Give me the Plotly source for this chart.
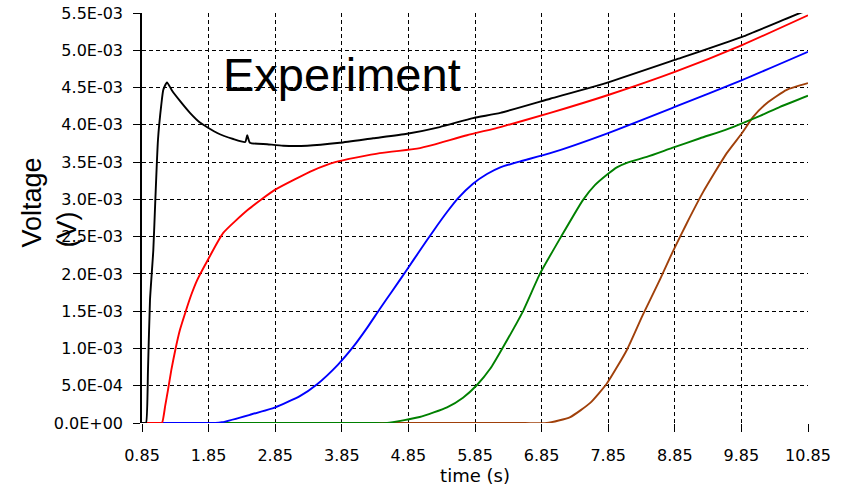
import plotly.graph_objects as go

# Time axis (s) and voltages (mV) for the five measured traces
black_t = [0.85, 0.88, 0.91, 0.94, 0.97, 1.02, 1.05, 1.09, 1.14, 1.17, 1.225, 1.30, 1.42, 1.57,
           1.72, 1.98, 2.22, 2.40, 2.43, 2.47, 2.73, 2.97, 3.33, 3.82, 4.32, 4.83, 5.32, 5.82,
           6.23, 6.98, 7.85, 8.85, 9.86, 10.73, 10.80]
black_mv = [0.0, 0.0, 0.0, 0.71, 1.65, 2.32, 2.99, 3.80, 4.27, 4.47, 4.57, 4.46, 4.32, 4.16,
            4.03, 3.89, 3.81, 3.77, 3.86, 3.76, 3.74, 3.72, 3.72, 3.76, 3.82, 3.88, 3.97, 4.09,
            4.16, 4.35, 4.57, 4.87, 5.18, 5.50, 5.52]

red_t = [0.85, 1.00, 1.10, 1.15, 1.20, 1.24, 1.29, 1.35, 1.42, 1.50, 1.59, 1.68, 1.84, 2.07,
         2.44, 2.85, 3.42, 3.75, 4.42, 4.98, 5.22, 5.73, 6.23, 6.98, 7.85, 8.85, 9.86, 10.85]
red_mv = [0.0, 0.0, 0.0, 0.0, 0.24, 0.44, 0.71, 0.98, 1.25, 1.48, 1.72, 1.92, 2.19, 2.55,
          2.86, 3.13, 3.39, 3.50, 3.62, 3.68, 3.73, 3.86, 3.97, 4.16, 4.40, 4.71, 5.07, 5.47]

blue_t = [0.85, 1.40, 1.75, 1.95, 2.05, 2.47, 2.85, 3.22, 3.48, 3.79, 4.02, 4.24, 4.42, 4.60,
          4.83, 5.02, 5.22, 5.43, 5.59, 5.82, 6.03, 6.23, 6.53, 6.98, 7.85, 8.85, 9.86, 10.85]
blue_mv = [0.0, 0.0, 0.0, 0.0, 0.01, 0.11, 0.21, 0.36, 0.52, 0.78, 1.02, 1.29, 1.53, 1.76,
           2.06, 2.31, 2.57, 2.83, 3.01, 3.21, 3.34, 3.43, 3.51, 3.62, 3.89, 4.24, 4.60, 4.98]

green_t = [0.85, 2.85, 3.85, 4.30, 4.53, 5.02, 5.43, 5.67, 5.88, 6.08, 6.26, 6.56, 6.83, 7.13,
           7.47, 7.65, 7.83, 7.98, 8.13, 8.43, 8.81, 9.23, 9.63, 9.86, 10.13, 10.43, 10.85]
green_mv = [0.0, 0.0, 0.0, 0.0, 0.0, 0.08, 0.21, 0.34, 0.51, 0.73, 1.00, 1.48, 2.01, 2.48,
            2.99, 3.19, 3.33, 3.43, 3.49, 3.57, 3.69, 3.82, 3.94, 4.02, 4.12, 4.24, 4.39]

brown_t = [0.85, 2.85, 4.85, 6.00, 6.60, 6.93, 7.28, 7.58, 7.83, 8.13, 8.37, 8.63, 8.82, 9.03,
           9.27, 9.63, 9.86, 10.02, 10.23, 10.53, 10.85]
brown_mv = [0.0, 0.0, 0.0, 0.0, 0.0, 0.0, 0.08, 0.27, 0.53, 0.98, 1.45, 1.93, 2.30, 2.68,
            3.09, 3.62, 3.89, 4.10, 4.29, 4.47, 4.56]

x_ticks = [0.85, 1.85, 2.85, 3.85, 4.85, 5.85, 6.85, 7.85, 8.85, 9.85, 10.85]
x_labels = ["0.85", "1.85", "2.85", "3.85", "4.85", "5.85", "6.85", "7.85", "8.85", "9.85", "10.85"]
y_ticks = [0.0, 0.0005, 0.0010, 0.0015, 0.0020, 0.0025, 0.0030, 0.0035, 0.0040, 0.0045, 0.0050, 0.0055]
y_labels = ["0.0E+00", "5.0E-04", "1.0E-03", "1.5E-03", "2.0E-03", "2.5E-03",
            "3.0E-03", "3.5E-03", "4.0E-03", "4.5E-03", "5.0E-03", "5.5E-03"]

series = [
    (black_t, black_mv, "#000000"),
    (red_t, red_mv, "#ff0000"),
    (blue_t, blue_mv, "#0000ff"),
    (green_t, green_mv, "#008000"),
    (brown_t, brown_mv, "#a0400a"),
]

fig = go.Figure()
# brown and green drawn first so the earlier traces sit on top where they overlap
for t, mv, col in reversed(series):
    fig.add_trace(go.Scatter(
        x=t, y=[v * 1e-3 for v in mv], mode="lines",
        line=dict(color=col, width=1.9, shape="spline", smoothing=0.5),
        showlegend=False, cliponaxis=False,
    ))

tick_font = dict(family="DejaVu Sans, Verdana, sans-serif", size=16, color="#000000")

fig.update_layout(
    width=850, height=486,
    margin=dict(l=142, r=42, t=13, b=63),
    paper_bgcolor="white", plot_bgcolor="white",
    xaxis=dict(
        range=[0.85, 10.85], tickvals=x_ticks, ticktext=x_labels, automargin=False,
        showgrid=True, gridcolor="#000000", gridwidth=1, griddash="4px,3px",
        zeroline=False, showline=False,
        ticks="outside", ticklen=8, tickcolor="#000000", tickwidth=1,
        tickfont=tick_font, ticklabelstandoff=10,
        title=dict(text="time (s)", font=dict(family="DejaVu Sans, Verdana, sans-serif", size=18, color="#000000"),
                   standoff=0),
    ),
    yaxis=dict(
        range=[0, 0.0055], tickvals=y_ticks, ticktext=y_labels, automargin=False,
        showgrid=True, gridcolor="#000000", gridwidth=1, griddash="4px,3px",
        zeroline=False, showline=True, linecolor="#000000", linewidth=1.5,
        ticks="outside", ticklen=7, tickcolor="#000000", tickwidth=1,
        tickfont=tick_font, ticklabelstandoff=7,
    ),
    annotations=[
        dict(text="Experiment", x=3.85, y=0.00468, xref="x", yref="y",
             showarrow=False, xanchor="center", yanchor="middle",
             font=dict(family="Liberation Sans, Arial, sans-serif", size=47, color="#000000")),
        dict(text="Voltage<br>(V)", x=-0.1396, y=0.538, xref="paper", yref="paper",
             showarrow=False, xanchor="center", yanchor="middle", textangle=-90, align="left",
             font=dict(family="Liberation Sans, Arial, sans-serif", size=27, color="#000000")),
    ],
)

fig.write_html("out.html")
